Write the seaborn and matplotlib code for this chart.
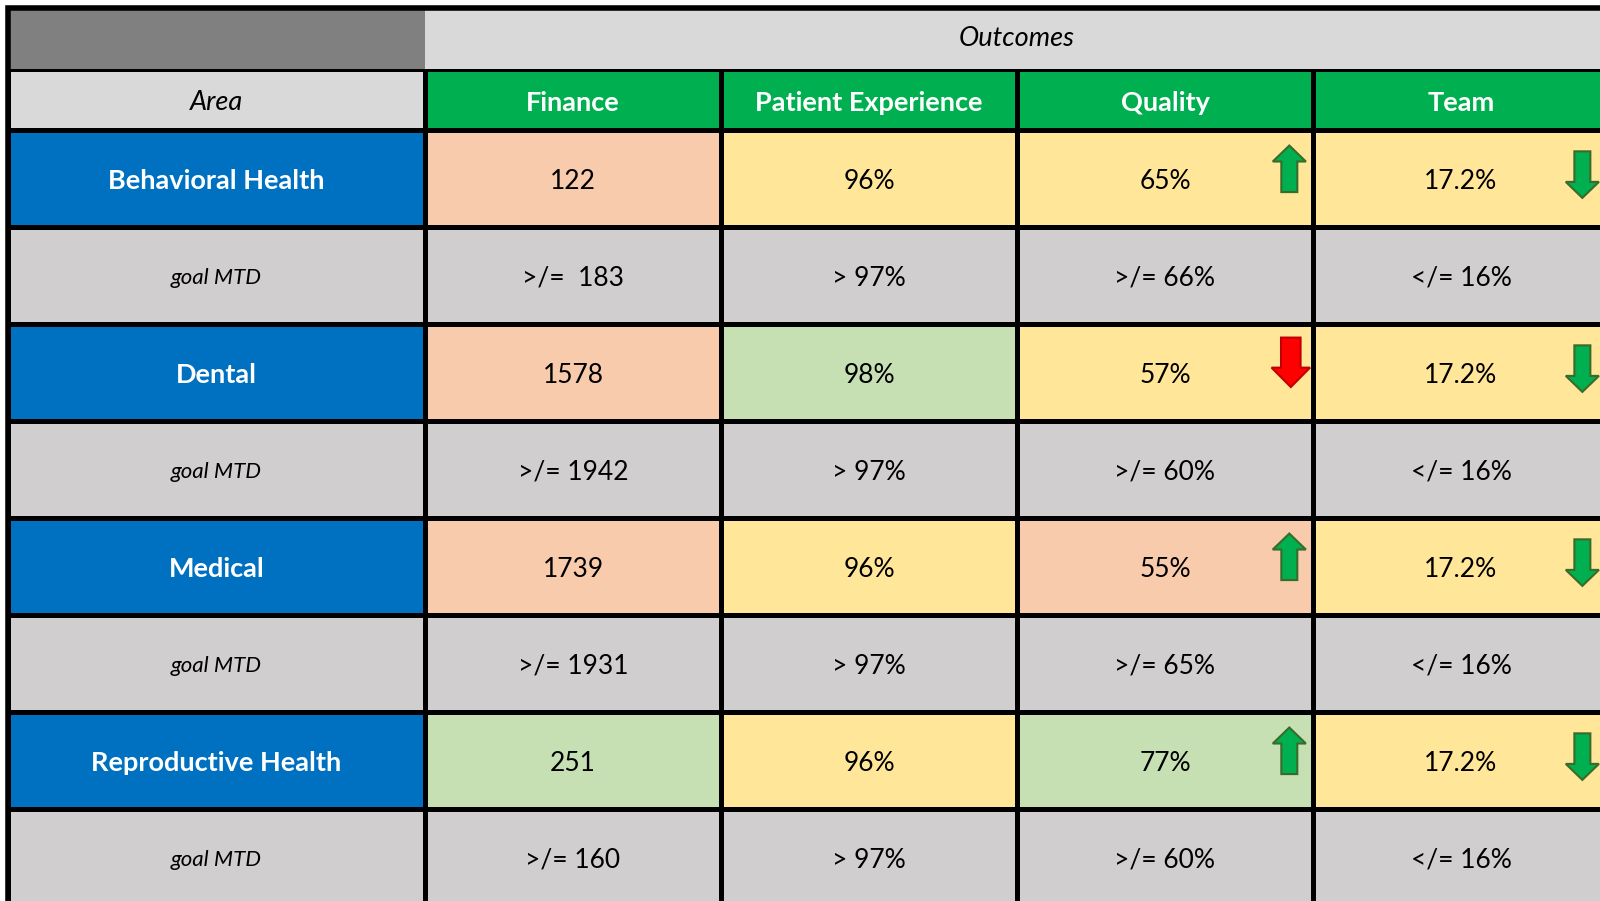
import numpy as np
import pandas as pd
import seaborn as sns
import matplotlib.pyplot as plt
from matplotlib.colors import ListedColormap
from matplotlib.patches import FancyArrow, Rectangle

sns.set_theme(style="white")
plt.rcParams['font.family'] = ['Lato', 'DejaVu Sans']

# data
areas = ["Behavioral Health", "Dental", "Medical", "Reproductive Health"]
measures = ["Finance", "Patient Experience", "Quality", "Team"]
actual = [["122", "96%", "65%", "17.2%"],
          ["1578", "98%", "57%", "17.2%"],
          ["1739", "96%", "55%", "17.2%"],
          ["251", "96%", "77%", "17.2%"]]
goals = [[">/=  183", "> 97%", ">/= 66%", "</= 16%"],
         [">/= 1942", "> 97%", ">/= 60%", "</= 16%"],
         [">/= 1931", "> 97%", ">/= 65%", "</= 16%"],
         [">/= 160", "> 97%", ">/= 60%", "</= 16%"]]
# 0 = off goal (peach), 1 = close (yellow), 2 = on goal (green)
status = [[0, 1, 1, 1],
          [0, 2, 1, 1],
          [0, 1, 0, 1],
          [2, 1, 2, 1]]
quality_trend = ["up", "down", "up", "up"]
team_trend = ["down", "down", "down", "down"]

# colours
peach, yellow, lgreen, gray = "#F8CBAD", "#FFE699", "#C6E0B4", "#D0CECE"
blue, hgreen, lgray, dgray = "#0070C0", "#00B050", "#D9D9D9", "#808080"

W, H = 1600, 901
fig = plt.figure(figsize=(W / 100, H / 100), dpi=100)
fig.patch.set_facecolor("white")


def box(x0, y0, x1, y1):
    return [x0 / W, 1 - y1 / H, (x1 - x0) / W, (y1 - y0) / H]


def nudge(texts, dy):
    for t in texts:
        x, y = t.get_position()
        t.set_position((x, y + dy))


LW = 2.2
FS_VAL, FS_HEAD, FS_GOAL = 19, 19.5, 16
X0, XC, CW = 8, 425, 296
Y0, YH1, YH2, RH = 8, 69, 130, 97
XR = XC + 4 * CW
YB = YH2 + 8 * RH

# body: actual rows and goal rows interleaved
body_txt, body_col = [], []
for a, g, s in zip(actual, goals, status):
    body_txt += [a, g]
    body_col += [s, [3, 3, 3, 3]]
body_txt = pd.DataFrame(body_txt, columns=measures)
body_col = pd.DataFrame(body_col, columns=measures)

ax = fig.add_axes(box(XC, YH2, XR, YB))
sns.heatmap(body_col, ax=ax, cmap=ListedColormap([peach, yellow, lgreen, gray]),
            vmin=-0.5, vmax=3.5, annot=body_txt, fmt="", cbar=False,
            linewidths=LW, linecolor="black",
            annot_kws={"fontsize": FS_VAL, "color": "black"})
ax.collections[0].set_clip_on(False)
ax.set(xticks=[], yticks=[], xlabel="", ylabel="")
nudge(ax.texts, 0.03)

# trend arrows
arrow_green, edge_green = "#00B050", "#3A6B2A"
for r, t in enumerate(quality_trend):
    y = 2 * r
    if t == "up":
        a = FancyArrow(2.92, y + 0.64, 0, -0.48, width=0.054, head_width=0.112,
                       head_length=0.165, length_includes_head=True,
                       fc=arrow_green, ec=edge_green, lw=1.5, clip_on=False)
    else:
        a = FancyArrow(2.925, y + 0.14, 0, 0.51, width=0.066, head_width=0.13,
                       head_length=0.2, length_includes_head=True,
                       fc="#FF0000", ec="#C00000", lw=1.5, clip_on=False)
    ax.add_patch(a)
for r, t in enumerate(team_trend):
    y = 2 * r
    dy = 0.48 if t == "down" else -0.48
    y_start = y + 0.22 if t == "down" else y + 0.70
    ax.add_patch(FancyArrow(3.91, y_start, 0, dy, width=0.054, head_width=0.112,
                            head_length=0.165, length_includes_head=True,
                            fc=arrow_green, ec=edge_green, lw=1.5, clip_on=False))

# area column
area_txt, area_col = [], []
for name in areas:
    area_txt += [[name], ["goal MTD"]]
    area_col += [[0], [1]]
axa = fig.add_axes(box(X0, YH2, XC, YB))
sns.heatmap(pd.DataFrame(area_col), ax=axa, cmap=ListedColormap([blue, gray]),
            vmin=-0.5, vmax=1.5, annot=pd.DataFrame(area_txt), fmt="", cbar=False,
            linewidths=LW, linecolor="black")
axa.collections[0].set_clip_on(False)
axa.set(xticks=[], yticks=[], xlabel="", ylabel="")
nudge(axa.texts, 0.03)
for i, t in enumerate(axa.texts):
    if i % 2 == 0:
        t.set(color="white", fontweight="bold", fontsize=FS_HEAD)
    else:
        t.set(color="black", fontstyle="italic", fontsize=FS_GOAL)

# header row 2
axh = fig.add_axes(box(XC, YH1, XR, YH2))
sns.heatmap(pd.DataFrame([[0] * 4], columns=measures), ax=axh,
            cmap=ListedColormap([hgreen]), annot=pd.DataFrame([measures]), fmt="",
            cbar=False, linewidths=LW, linecolor="black",
            annot_kws={"fontsize": FS_HEAD, "color": "white", "fontweight": "bold"})
axh.collections[0].set_clip_on(False)
axh.set(xticks=[], yticks=[], xlabel="", ylabel="")

axah = fig.add_axes(box(X0, YH1, XC, YH2))
sns.heatmap(pd.DataFrame([[0]]), ax=axah, cmap=ListedColormap([lgray]),
            annot=pd.DataFrame([["Area"]]), fmt="", cbar=False,
            linewidths=LW, linecolor="black",
            annot_kws={"fontsize": FS_HEAD, "color": "black", "fontstyle": "italic"})
axah.collections[0].set_clip_on(False)
axah.set(xticks=[], yticks=[], xlabel="", ylabel="")
nudge(axh.texts + axah.texts, 0.05)

# header row 1
axtl = fig.add_axes(box(X0, Y0, XC, YH1))
sns.heatmap(pd.DataFrame([[0]]), ax=axtl, cmap=ListedColormap([dgray]), cbar=False)
axtl.set(xticks=[], yticks=[], xlabel="", ylabel="")

axo = fig.add_axes(box(XC, Y0, XR, YH1))
sns.heatmap(pd.DataFrame([[0]]), ax=axo, cmap=ListedColormap([lgray]),
            annot=pd.DataFrame([["Outcomes"]]), fmt="", cbar=False,
            annot_kws={"fontsize": FS_HEAD, "color": "black", "fontstyle": "italic"})
axo.set(xticks=[], yticks=[], xlabel="", ylabel="")

# outer frame
fig.patches.append(Rectangle((7.5 / W, -0.1), 1.2, 1 - 7.5 / H + 0.1,
                             transform=fig.transFigure, fill=False,
                             ec="black", lw=4, zorder=10))

fig.savefig("out.png", dpi=100)
